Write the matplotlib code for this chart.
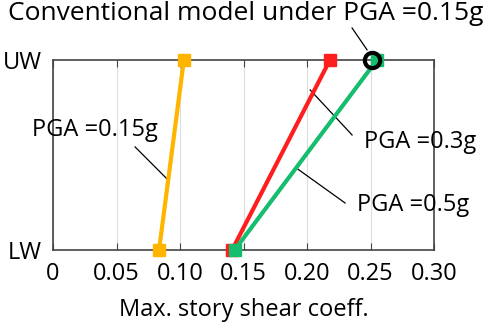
import matplotlib.pyplot as plt

plt.rcParams['font.family'] = ['Open Sans', 'DejaVu Sans']

levels = [0, 1]  # LW, UW
level_labels = ['LW', 'UW']
pga_015 = [0.0835, 0.103]
pga_03 = [0.141, 0.218]
pga_05 = [0.143, 0.255]
conv_015 = 0.251
xticks = [0, 0.05, 0.10, 0.15, 0.20, 0.25, 0.30]
xtick_labels = ['0', '0.05', '0.10', '0.15', '0.20', '0.25', '0.30']

fig = plt.figure(figsize=(4.84, 3.31), dpi=100)
ax = fig.add_axes([0.1095, 0.245, 0.7875, 0.574])

ax.plot(pga_015, levels, color='#FFB400', lw=3, marker='s', ms=9, zorder=3, clip_on=False)
ax.plot(pga_03, levels, color='#FF1E1E', lw=3, marker='s', ms=9, zorder=3, clip_on=False)
ax.plot(pga_05, levels, color='#14BE6E', lw=3, marker='s', ms=9, zorder=3, clip_on=False)
ax.plot([conv_015], [1], 'o', ms=11, mfc='none', mec='k', mew=3, zorder=4, clip_on=False)

ax.set_xlim(0, 0.30)
ax.set_ylim(0, 1)
ax.set_xticks(xticks)
ax.set_xticklabels(xtick_labels, fontsize=17)
ax.set_yticks(levels)
ax.set_yticklabels(level_labels, fontsize=17)
ax.tick_params(axis='x', direction='in', top=True, length=5, pad=9, color='#444444')
ax.tick_params(axis='y', length=0, pad=8)
ax.grid(axis='x', color='#dddddd', lw=0.8)
for s in ax.spines.values():
    s.set_color('#444444')
    s.set_linewidth(1.2)
ax.set_xlabel('Max. story shear coeff.', fontsize=17, labelpad=8)

# labels
fig.text(0.508, 0.958, 'Conventional model under PGA =0.15g', fontsize=19, ha='center', va='center')
ax.text(0.0331, 0.632, 'PGA =0.15g', fontsize=17, ha='center', va='center')
ax.text(0.289, 0.568, 'PGA =0.3g', fontsize=17, ha='center', va='center')
ax.text(0.2835, 0.237, 'PGA =0.5g', fontsize=17, ha='center', va='center')

# leader lines
ax.plot([0.2354, 0.2472], [1.168, 1.053], color='k', lw=0.9, clip_on=False)
ax.plot([0.0646, 0.0906], [0.542, 0.368], color='k', lw=0.9)
ax.plot([0.2024, 0.2354], [0.842, 0.605], color='k', lw=0.9)
ax.plot([0.1913, 0.2299], [0.432, 0.247], color='k', lw=0.9)

fig.savefig('out.png', dpi=100)
